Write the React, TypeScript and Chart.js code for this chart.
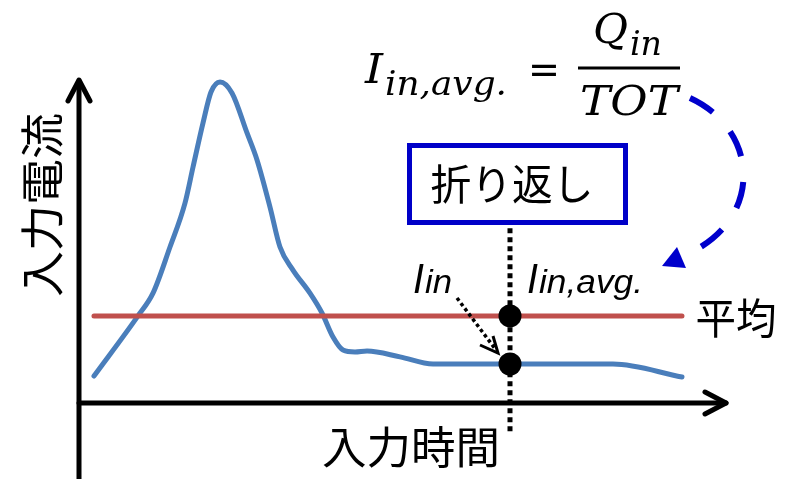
import { useEffect, useRef } from "react";
import { Chart, registerables } from "chart.js";

Chart.register(...registerables);

// Input current waveform (time, current) in arbitrary units 0..100
const timeValues = [
  2.31, 9.09, 11.4, 14.02, 16.33, 17.57, 19.11, 20.34, 21.73, 23.57, 25.89, 27.43, 29.43,
  30.97, 32.97, 35.59, 37.44, 39.14, 40.68, 42.53, 44.38, 49.46, 54.55, 66.41, 82.28, 92.91,
];
const currentValues = [
  8.3, 26.8, 33.8, 48.0, 61.5, 72.6, 86.2, 95.7, 98.8, 95.4, 83.1, 74.8, 60.3,
  48.0, 40.9, 33.8, 27.7, 20.3, 16.3, 15.7, 16.0, 14.2, 12.0, 12.0, 12.0, 8.0,
];

// Average current level and the span it is drawn over
const averageCurrent = 26.8;
const averageSpan = [2.31, 92.91];

// Fold-back instant: current at that time and the marker line extent
const foldTime = 66.41;
const foldCurrent = 12.0;
const markerSpan = [53.8, -9.8];

const JP = '"Noto Sans CJK JP", "Noto Sans CJK SC", sans-serif';
const SERIF = '"DejaVu Serif", serif';
const SANS = '"Liberation Sans", Arial, sans-serif';

function fitText(
  ctx: CanvasRenderingContext2D,
  text: string,
  x: number,
  y: number,
  width: number,
  align: "left" | "center" = "left"
) {
  const w = ctx.measureText(text).width;
  ctx.save();
  ctx.translate(x, y);
  ctx.scale(width / w, 1);
  ctx.textAlign = "left";
  ctx.fillText(text, align === "center" ? -w / 2 : 0, 0);
  ctx.restore();
}

const overlayPlugin = {
  id: "overlay",
  beforeDatasetsDraw(chart: any) {
    const ctx: CanvasRenderingContext2D = chart.ctx;
    const xs = chart.scales.x;
    const ys = chart.scales.y;
    const x0 = xs.getPixelForValue(0);
    const xEnd = xs.getPixelForValue(100);
    const yBase = ys.getPixelForValue(0);
    const yTop = ys.getPixelForValue(100);

    ctx.save();
    ctx.strokeStyle = "#000";
    ctx.lineWidth = 5;
    ctx.lineCap = "round";
    ctx.lineJoin = "round";
    // vertical axis
    ctx.beginPath();
    ctx.moveTo(x0, chart.height + 4);
    ctx.lineTo(x0, yTop + 3);
    ctx.stroke();
    ctx.beginPath();
    ctx.moveTo(x0 - 11, yTop + 23);
    ctx.lineTo(x0, yTop + 2);
    ctx.lineTo(x0 + 11, yTop + 23);
    ctx.stroke();
    // horizontal axis
    ctx.beginPath();
    ctx.moveTo(x0, yBase);
    ctx.lineTo(xEnd - 2, yBase);
    ctx.stroke();
    ctx.beginPath();
    ctx.moveTo(xEnd - 23, yBase - 11);
    ctx.lineTo(xEnd - 2, yBase);
    ctx.lineTo(xEnd - 23, yBase + 11);
    ctx.stroke();
    ctx.restore();
  },
  afterDatasetsDraw(chart: any) {
    const ctx: CanvasRenderingContext2D = chart.ctx;
    const xs = chart.scales.x;
    const ys = chart.scales.y;
    const fx = xs.getPixelForValue(foldTime);
    const fy = ys.getPixelForValue(foldCurrent);

    ctx.save();
    ctx.fillStyle = "#000";

    // axis titles
    ctx.font = `44px ${JP}`;
    ctx.textBaseline = "middle";
    ctx.save();
    ctx.translate(42, 205);
    ctx.rotate(-Math.PI / 2);
    fitText(ctx, "入力電流", 0, 0, 184, "center");
    ctx.restore();
    fitText(ctx, "入力時間", 411, 447, 178, "center");

    // average label
    ctx.font = `42px ${JP}`;
    fitText(ctx, "平均", 736, 318, 81, "center");

    // fold-back box
    ctx.fillStyle = "#fff";
    ctx.fillRect(409.5, 145.5, 216, 77);
    ctx.strokeStyle = "#0000c8";
    ctx.lineWidth = 5;
    ctx.strokeRect(409.5, 145.5, 216, 77);
    ctx.fillStyle = "#000";
    ctx.font = `42px ${JP}`;
    fitText(ctx, "折り返し", 512, 184, 163, "center");

    // current labels
    ctx.textBaseline = "alphabetic";
    ctx.font = `italic 42px ${SANS}`;
    fitText(ctx, "I", 413, 293, 11);
    ctx.font = `italic 34px ${SANS}`;
    fitText(ctx, "in", 425, 293, 27);
    ctx.font = `italic 42px ${SANS}`;
    fitText(ctx, "I", 527, 293, 11);
    ctx.font = `italic 34px ${SANS}`;
    fitText(ctx, "in,avg.", 539, 293, 104);

    // dotted pointer from I_in to the sampled point
    const tipX = fx - 12;
    const tipY = fy - 11;
    ctx.strokeStyle = "#000";
    ctx.lineWidth = 3.5;
    ctx.setLineDash([3.5, 3]);
    ctx.beginPath();
    ctx.moveTo(457, 298);
    ctx.lineTo(tipX - 2, tipY - 3);
    ctx.stroke();
    ctx.setLineDash([]);
    ctx.lineWidth = 3;
    ctx.beginPath();
    ctx.moveTo(tipX - 18, tipY - 8);
    ctx.lineTo(tipX, tipY);
    ctx.lineTo(tipX - 5, tipY - 17);
    ctx.stroke();

    // formula I_in,avg. = Q_in / TOT
    ctx.font = `italic 41px ${SERIF}`;
    fitText(ctx, "I", 365, 83, 18);
    ctx.font = `italic 34px ${SERIF}`;
    fitText(ctx, "in,avg.", 385, 95, 122);
    ctx.font = `41px ${SERIF}`;
    fitText(ctx, "=", 528, 83, 32);
    ctx.font = `italic 41px ${SERIF}`;
    fitText(ctx, "Q", 593, 43, 35);
    ctx.font = `italic 34px ${SERIF}`;
    fitText(ctx, "in", 630, 55, 32);
    ctx.font = `italic 41px ${SERIF}`;
    fitText(ctx, "TOT", 580, 115, 98);
    ctx.lineWidth = 3;
    ctx.beginPath();
    ctx.moveTo(578, 68);
    ctx.lineTo(680, 68);
    ctx.stroke();

    // dashed curved arrow from the formula to the average label
    ctx.strokeStyle = "#0000cc";
    ctx.fillStyle = "#0000cc";
    ctx.lineWidth = 6;
    ctx.setLineDash([27, 26]);
    ctx.beginPath();
    ctx.moveTo(690, 98);
    ctx.bezierCurveTo(760, 130, 765, 222, 683, 256);
    ctx.stroke();
    ctx.setLineDash([]);
    ctx.beginPath();
    ctx.moveTo(662, 266);
    ctx.lineTo(677, 247);
    ctx.lineTo(686, 268);
    ctx.closePath();
    ctx.fill();

    ctx.restore();
  },
};

export default function App() {
  const canvasRef = useRef<HTMLCanvasElement | null>(null);

  useEffect(() => {
    document.body.style.margin = "0";
    const canvas = canvasRef.current;
    if (!canvas) return;

    const waveform = timeValues.map((t, i) => ({ x: t, y: currentValues[i] }));
    const average = averageSpan.map((t) => ({ x: t, y: averageCurrent }));
    const marker = markerSpan.map((v) => ({ x: foldTime, y: v }));
    const samples = [
      { x: foldTime, y: averageCurrent },
      { x: foldTime, y: foldCurrent },
    ];

    const chart = new Chart(canvas, {
      type: "line",
      data: {
        datasets: [
          {
            label: "samples",
            data: samples,
            showLine: false,
            pointRadius: 11.5,
            pointBackgroundColor: "#000",
            pointBorderWidth: 0,
            clip: false as any,
          },
          {
            label: "平均",
            data: average,
            borderColor: "#c0504d",
            borderWidth: 5,
            borderCapStyle: "round",
            pointRadius: 0,
            clip: false as any,
          },
          {
            label: "入力電流",
            data: waveform,
            borderColor: "#4a7ebb",
            borderWidth: 5,
            borderCapStyle: "round",
            borderJoinStyle: "round",
            cubicInterpolationMode: "monotone",
            pointRadius: 0,
            clip: false as any,
          },
          {
            label: "折り返し",
            data: marker,
            borderColor: "#000",
            borderWidth: 5,
            borderDash: [5, 4],
            borderCapStyle: "butt",
            pointRadius: 0,
            clip: false as any,
          },
        ],
      },
      options: {
        responsive: false,
        animation: false,
        layout: { padding: { left: 79, right: 58, top: 78, bottom: 76 } },
        scales: {
          x: { type: "linear", min: 0, max: 100, display: false },
          y: { type: "linear", min: 0, max: 100, display: false },
        },
        plugins: {
          legend: { display: false },
          tooltip: { enabled: false },
        },
        events: [],
      },
      plugins: [overlayPlugin],
    });

    return () => chart.destroy();
  }, []);

  return (
    <div style={{ width: 786, height: 479, position: "relative", background: "#fff" }}>
      <canvas ref={canvasRef} width={786} height={479} style={{ display: "block" }} />
    </div>
  );
}
